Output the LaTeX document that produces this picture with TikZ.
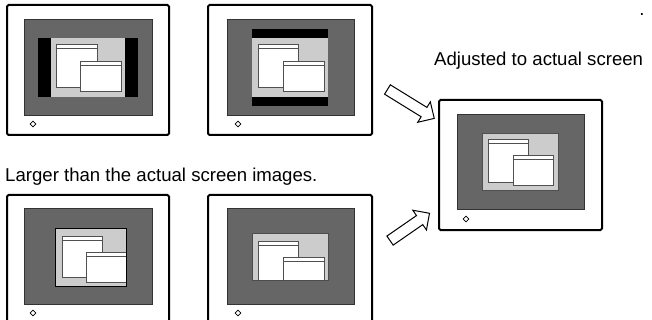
\documentclass[tikz,border=0pt]{standalone}
\usepackage{fontspec}
\setmainfont{Liberation Sans}
\usepackage{xcolor}
\usepackage{tikz}
\definecolor{scrdark}{RGB}{102, 102, 102}
\definecolor{scrlight}{RGB}{204, 204, 204}
\definecolor{winedge}{RGB}{80, 80, 80}
\usetikzlibrary{shapes.arrows,shapes.geometric}

\tikzset{
    bezel/.style={draw=black, line width=2pt, fill=white, rounded corners=1.5pt},
    screen/.style={draw=black!80, line width=0.8pt, fill=scrdark},
    desk/.style={draw=winedge, line width=0.8pt, fill=scrlight},
    bar/.style={fill=black},
    win/.style={draw=winedge, line width=1pt, fill=white},
    knob/.style={diamond, draw=black, line width=0.8pt, fill=white, inner sep=0pt, minimum size=6pt},
    caption/.style={font=\fontsize{18.6}{20}\selectfont, inner sep=0pt},
    hollow/.style={single arrow, draw=black, line width=1pt, fill=white, inner xsep=0pt, inner ysep=5pt,
        single arrow head extend=6.5pt, single arrow head indent=0pt}
}

% one application window with its title bar
\newcommand{\appwin}[4]{
    \draw[win] (#1,#2) rectangle (#3,#4);
    \draw[winedge, line width=1pt] (#1,{#2+4}) -- (#3,{#2+4});
}

\begin{document}
\begin{tikzpicture}[x=1pt, y=-1pt]
    \clip (0,0) rectangle (652,320);
    \fill[white] (0,0) rectangle (652,320);

    % top left: side bars
    \draw[bezel] (7,5) rectangle (169,135);
    \draw[screen] (24,19) rectangle (152,115);
    \fill[bar] (38,38) rectangle (138,97);
    \fill[scrlight] (51,38) rectangle (125,97);
    \appwin{56}{45}{97}{88}
    \appwin{80}{62}{121}{92}
    \node[knob] (k1) at (33,124) {};

    % top middle: top and bottom bars
    \draw[bezel] (208,5) rectangle (372,135);
    \draw[screen] (227,19) rectangle (354,115);
    \fill[bar] (252,29) rectangle (328,106);
    \fill[scrlight] (252,38) rectangle (328,97);
    \appwin{258}{45}{298}{88}
    \appwin{283}{62}{324}{92}
    \node[knob] (k2) at (238,124) {};

    % right: adjusted
    \draw[bezel] (439,100) rectangle (602,230);
    \draw[screen] (457,114) rectangle (584,209);
    \draw[desk] (482,133) rectangle (558,190);
    \appwin{488}{140}{528}{183}
    \appwin{513}{156}{553}{186}
    \node[knob] (k3) at (466,219) {};

    % bottom left: larger
    \draw[bezel] (7,195) rectangle (169,340);
    \draw[screen] (24,208) rectangle (152,304);
    \fill[scrlight] (55,228) rectangle (126,286);
    \appwin{62}{236}{102}{277}
    \appwin{86}{252}{126}{282}
    \draw[black, line width=1pt] (55,228) rectangle (126,286);
    \node[knob] (k4) at (33,313) {};

    % bottom middle: larger
    \draw[bezel] (208,195) rectangle (372,340);
    \draw[screen] (227,208) rectangle (354,304);
    \fill[scrlight] (252,233) rectangle (328,280);
    \appwin{258}{241}{298}{280}
    \appwin{283}{257}{324}{280}
    \draw[black!70, line width=1pt] (252,233) rectangle (328,280);
    \node[knob] (k5) at (238,313) {};

    % texts
    \node[caption, anchor=base west] (adj) at (434,66) {Adjusted to actual screen};
    \node[caption, anchor=base west] (big) at (5,182) {Larger than the actual screen images.};
    \node[caption, anchor=base] (dot) at (642,16) {.};

    % arrows
    \node[hollow, minimum height=55pt, rotate=-31.7] (down) at (408.5,102.5) {};
    \node[hollow, minimum height=48pt, rotate=34.7] (up) at (407.5,228.5) {};
\end{tikzpicture}
\end{document}
